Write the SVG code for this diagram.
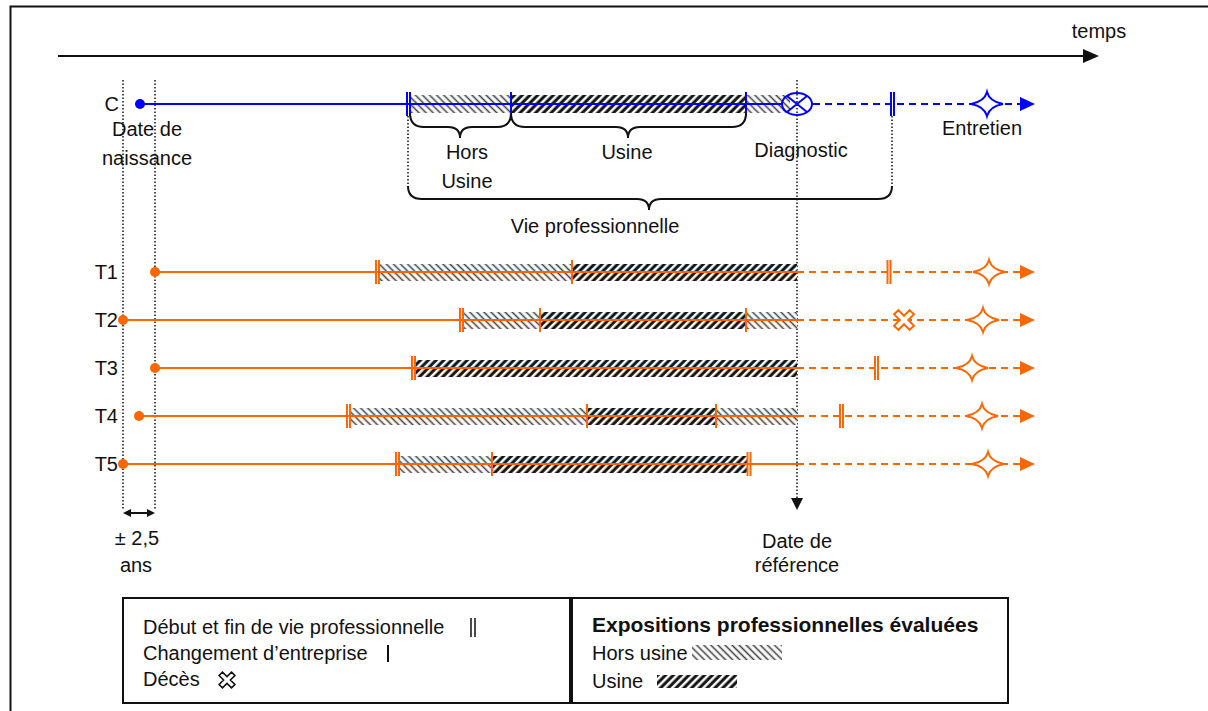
<svg xmlns="http://www.w3.org/2000/svg" xmlns:xlink="http://www.w3.org/1999/xlink" width="1208" height="711" viewBox="0 0 1208 711">
<style>
text{font-family:"Liberation Sans",Arial,sans-serif;font-size:20px;fill:#111}
.mid{text-anchor:middle}
.end{text-anchor:end}
.b{font-weight:bold;font-size:21px}
.blue{stroke:#0000ff;fill:none;stroke-width:2}
.or{stroke:#ff6600;fill:none;stroke-width:2}
.dash{stroke-dasharray:7 5}
.dot{stroke:#111;stroke-width:1.5;stroke-dasharray:1.5 2;fill:none}
.blk{stroke:#111;fill:none;stroke-width:2}
.starB{stroke:#0000ff;fill:#fff;stroke-width:2}
.starO{stroke:#ff6600;fill:#fff;stroke-width:2}
.hors{fill:url(#hors)}
.usine{fill:url(#usine)}
</style>
<defs>
<pattern id="hors" width="5" height="5" patternUnits="userSpaceOnUse" patternTransform="rotate(-45)">
<rect width="5" height="5" fill="#fff"/>
<line x1="1.5" y1="0" x2="1.5" y2="5" stroke="#444" stroke-width="1.6"/>
</pattern>
<pattern id="usine" width="5.5" height="5.5" patternUnits="userSpaceOnUse" patternTransform="rotate(45)">
<rect width="5.5" height="5.5" fill="#fff"/>
<line x1="2" y1="0" x2="2" y2="5.5" stroke="#111" stroke-width="3"/>
</pattern>
<path id="dbar" d="M-1.5,-12V12M1.5,-12V12"/>
<path id="sbar" d="M0,-12V12"/>
<path id="star" d="M-16,0Q-2.5,-2.5 0,-12Q2.5,-2.5 16,0Q2.5,2.5 0,12Q-2.5,2.5 -16,0Z"/>
<path id="cross" d="M-3,-11h6v8h8v6h-8v8h-6v-8h-8v-6h8z" transform="rotate(45)"/>
<path id="arr" d="M0,-7L15,0L0,7Z"/>
</defs>

<g id="frame">
<rect x="10.5" y="6.5" width="1220" height="720" fill="none" stroke="#111" stroke-width="2"/>
</g>

<g id="connectors">
<line x1="58" y1="56" x2="1084" y2="56" stroke="#111" stroke-width="2"/>
<path d="M1083,49L1099,56L1083,63Z" fill="#111"/>
<line class="dot" x1="123" y1="80" x2="123" y2="510"/>
<line class="dot" x1="155" y1="80" x2="155" y2="510"/>
<line x1="128" y1="513" x2="150" y2="513" stroke="#111" stroke-width="2"/>
<path d="M123,513L131,509L131,517Z" fill="#111"/>
<path d="M155,513L147,509L147,517Z" fill="#111"/>
<line class="dot" x1="797" y1="80" x2="797" y2="500"/>
<path d="M791,498L803,498L797,510Z" fill="#111"/>
<line class="dot" x1="408" y1="116" x2="408" y2="187"/>
<line class="dot" x1="892" y1="116" x2="892" y2="187"/>
</g>

<g id="axis-label">
<text class="mid" x="1099" y="38">temps</text>
</g>

<g id="line-C">
<rect class="hors" x="411" y="95" width="100" height="18"/>
<rect class="usine" x="511" y="95" width="235" height="18"/>
<rect class="hors" x="746" y="95" width="44" height="18"/>
<line class="blue" x1="140" y1="104" x2="782" y2="104"/>
<circle cx="140" cy="104" r="5" fill="#0000ff"/>
<use href="#dbar" x="408.5" y="104" class="blue"/>
<use href="#sbar" x="511" y="104" class="blue"/>
<use href="#sbar" x="746" y="104" class="blue"/>
<ellipse cx="797" cy="104" rx="15" ry="11" class="blue"/>
<path d="M787,96L807,112M787,112L807,96" class="blue"/>
<line class="blue dash" x1="813" y1="104" x2="1020" y2="104"/>
<use href="#dbar" x="892.5" y="104" class="blue"/>
<use href="#star" x="987" y="104" class="starB"/>
<use href="#arr" x="1020" y="104" fill="#0000ff"/>
<text class="end" x="119" y="111">C</text>
</g>

<g id="braces">
<path class="blk" d="M410,113Q410,127 424,127L448,127Q460,127 460,138Q460,127 472,127L497,127Q511,127 511,113"/>
<path class="blk" d="M511,113Q511,127 525,127L616,127Q628,127 628,138Q628,127 640,127L732,127Q746,127 746,113"/>
<path class="blk" d="M408,186Q408,199 422,199L637,199Q649,199 649,210Q649,199 661,199L878,199Q892,199 892,186"/>
</g>

<g id="labels">
<text class="mid" x="147" y="136">Date de</text>
<text class="mid" x="147" y="165">naissance</text>
<text class="mid" x="467" y="159">Hors</text>
<text class="mid" x="467" y="188">Usine</text>
<text class="mid" x="627" y="159">Usine</text>
<text class="mid" x="801" y="157">Diagnostic</text>
<text class="mid" x="982" y="135">Entretien</text>
<text class="mid" x="595" y="233">Vie professionnelle</text>
<text class="mid" x="137" y="545">± 2,5</text>
<text class="mid" x="136" y="572">ans</text>
<text class="mid" x="797" y="548">Date de</text>
<text class="mid" x="797" y="572">référence</text>
</g>

<g id="line-T1">
<rect class="hors" x="379" y="264" width="193" height="17"/>
<rect class="usine" x="572" y="264" width="225" height="17"/>
<line class="or" x1="155" y1="272" x2="797" y2="272"/>
<circle cx="155" cy="272" r="5" fill="#ff6600"/>
<use href="#dbar" x="377.5" y="272" class="or"/>
<use href="#sbar" x="572" y="272" class="or"/>
<line class="or dash" x1="797" y1="272" x2="1020" y2="272"/>
<use href="#dbar" x="889" y="272" class="or"/>
<use href="#star" x="989" y="272" class="starO"/>
<use href="#arr" x="1020" y="272" fill="#ff6600"/>
<text class="end" x="118" y="279">T1</text>
</g>

<g id="line-T2">
<rect class="hors" x="463" y="312" width="77" height="17"/>
<rect class="usine" x="540" y="312" width="206" height="17"/>
<rect class="hors" x="746" y="312" width="51" height="17"/>
<line class="or" x1="123" y1="320" x2="797" y2="320"/>
<circle cx="123" cy="320" r="5" fill="#ff6600"/>
<use href="#dbar" x="461.5" y="320" class="or"/>
<use href="#sbar" x="540" y="320" class="or"/>
<use href="#sbar" x="746" y="320" class="or"/>
<line class="or dash" x1="797" y1="320" x2="1020" y2="320"/>
<g transform="translate(904,320)"><use href="#cross" class="starO"/></g>
<use href="#star" x="983" y="320" class="starO"/>
<use href="#arr" x="1020" y="320" fill="#ff6600"/>
<text class="end" x="118" y="327">T2</text>
</g>

<g id="line-T3">
<rect class="usine" x="415" y="360" width="382" height="17"/>
<line class="or" x1="155" y1="368" x2="797" y2="368"/>
<circle cx="155" cy="368" r="5" fill="#ff6600"/>
<use href="#dbar" x="413.5" y="368" class="or"/>
<line class="or dash" x1="797" y1="368" x2="1020" y2="368"/>
<use href="#dbar" x="876.5" y="368" class="or"/>
<use href="#star" x="972" y="368" class="starO"/>
<use href="#arr" x="1020" y="368" fill="#ff6600"/>
<text class="end" x="118" y="375">T3</text>
</g>

<g id="line-T4">
<rect class="hors" x="350" y="408" width="237" height="17"/>
<rect class="usine" x="587" y="408" width="129" height="17"/>
<rect class="hors" x="716" y="408" width="81" height="17"/>
<line class="or" x1="139" y1="416" x2="797" y2="416"/>
<circle cx="139" cy="416" r="5" fill="#ff6600"/>
<use href="#dbar" x="348.5" y="416" class="or"/>
<use href="#sbar" x="587" y="416" class="or"/>
<use href="#sbar" x="716" y="416" class="or"/>
<line class="or dash" x1="797" y1="416" x2="1020" y2="416"/>
<use href="#dbar" x="841.5" y="416" class="or"/>
<use href="#star" x="982" y="416" class="starO"/>
<use href="#arr" x="1020" y="416" fill="#ff6600"/>
<text class="end" x="118" y="423">T4</text>
</g>

<g id="line-T5">
<rect class="hors" x="399" y="456" width="93" height="17"/>
<rect class="usine" x="492" y="456" width="256" height="17"/>
<line class="or" x1="123" y1="464" x2="797" y2="464"/>
<circle cx="123" cy="464" r="5" fill="#ff6600"/>
<use href="#dbar" x="397.5" y="464" class="or"/>
<use href="#sbar" x="492" y="464" class="or"/>
<use href="#dbar" x="749" y="464" class="or"/>
<line class="or dash" x1="797" y1="464" x2="1020" y2="464"/>
<use href="#star" x="988" y="464" class="starO"/>
<use href="#arr" x="1020" y="464" fill="#ff6600"/>
<text class="end" x="118" y="471">T5</text>
</g>

<g id="legend-events">
<rect x="123" y="598" width="447" height="105" fill="none" stroke="#111" stroke-width="2"/>
<text x="143" y="634">Début et fin de vie professionnelle</text>
<path d="M471,618V637M475,618V637" stroke="#111" stroke-width="1.5"/>
<text x="143" y="660">Changement d’entreprise</text>
<path d="M388,645V662" stroke="#111" stroke-width="2"/>
<text x="143" y="686">Décès</text>
<g transform="translate(227,680) scale(0.8)"><use href="#cross" fill="#fff" stroke="#111" stroke-width="2"/></g>
</g>

<g id="legend-exposures">
<rect x="572" y="598" width="436" height="105" fill="none" stroke="#111" stroke-width="2"/>
<text class="b" x="592" y="632">Expositions professionnelles évaluées</text>
<text x="592" y="660">Hors usine</text>
<rect class="hors" x="692" y="645" width="90" height="15"/>
<text x="592" y="688">Usine</text>
<rect class="usine" x="657" y="675" width="80" height="13"/>
</g>
</svg>
